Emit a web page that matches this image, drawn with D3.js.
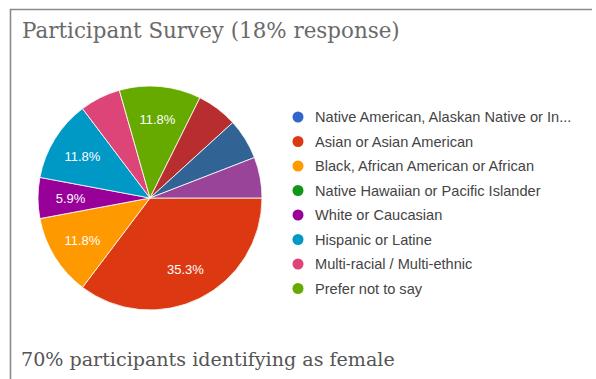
<!DOCTYPE html>
<html>
<head>
<meta charset="utf-8">
<script src="https://cdn.jsdelivr.net/npm/d3@7"></script>
<style>
  html, body { margin: 0; padding: 0; background: #fff; }
  svg { display: block; }
</style>
</head>
<body>
<svg id="chart" width="596" height="379"></svg>
<script>
// ---- data ----
const title = "Participant Survey (18% response)";
const footnote = "70% participants identifying as female";
const categories = [
  "Native American, Alaskan Native or Indigenous",
  "Asian or Asian American",
  "Black, African American or African",
  "Native Hawaiian or Pacific Islander",
  "White or Caucasian",
  "Hispanic or Latine",
  "Multi-racial / Multi-ethnic",
  "Prefer not to say",
  "Other (9)",
  "Other (10)",
  "Other (11)"
];
const counts = [0, 6, 2, 0, 1, 2, 1, 2, 1, 1, 1];
const colors = ["#3366cc", "#dc3912", "#ff9900", "#109618", "#990099",
                "#0099c6", "#dd4477", "#66aa00", "#b82e2e", "#316395", "#994499"];
const legendCount = 8; // legend shows the first 8 entries

// ---- layout ----
const svg = d3.select("#chart");
const W = 596, H = 379;

// card border (left & top)
svg.append("path")
  .attr("d", `M10.5,${H} L10.5,9.5 L592,9.5`)
  .attr("fill", "none").attr("stroke", "#8a8a8a").attr("stroke-width", 1.6);

function fitText(sel, targetWidth) {
  const node = sel.node();
  const w = node.getComputedTextLength();
  const fs = parseFloat(sel.attr("font-size"));
  sel.attr("font-size", fs * targetWidth / w);
}

const t = svg.append("text")
  .attr("x", 22).attr("y", 38)
  .attr("font-family", "'DejaVu Serif', 'Liberation Serif', serif")
  .attr("font-size", 20).attr("fill", "#6a6a6a")
  .text(title);
fitText(t, 378);

const f = svg.append("text")
  .attr("x", 21).attr("y", 366)
  .attr("font-family", "'DejaVu Serif', 'Liberation Serif', serif")
  .attr("font-size", 18).attr("fill", "#555")
  .text(footnote);
fitText(f, 374);

// ---- pie ----
const cx = 150, cy = 198, R = 112;
const data = categories.map((c, i) => ({ cat: c, value: counts[i], color: colors[i] }));
const total = d3.sum(counts);

const pie = d3.pie().value(d => d.value).sort(null)
  .startAngle(Math.PI / 2).endAngle(Math.PI / 2 + 2 * Math.PI);
const arcs = pie(data).filter(a => a.data.value > 0);
const arc = d3.arc().innerRadius(0).outerRadius(R);
const labelArc = d3.arc().innerRadius(R * 0.71).outerRadius(R * 0.71);

const g = svg.append("g").attr("transform", `translate(${cx},${cy})`);
g.selectAll("path.slice").data(arcs).join("path")
  .attr("class", "slice")
  .attr("d", arc)
  .attr("fill", d => d.data.color)
  .attr("stroke", "#fff").attr("stroke-width", 1)
  .attr("stroke-opacity", 0.8);

const fmt = v => (v * 100).toFixed(1) + "%";
// label shown when it fits: large slice, or a thin slice lying horizontally
function fits(a) {
  const frac = a.data.value / total;
  const mid = (a.startAngle + a.endAngle) / 2;
  const horiz = Math.abs(Math.cos(mid)) < 0.1 && Math.sin(mid) < 0;
  return frac >= 0.1 || horiz;
}
g.selectAll("text.lbl").data(arcs.filter(fits)).join("text")
  .attr("class", "lbl")
  .attr("transform", d => `translate(${labelArc.centroid(d)})`)
  .attr("text-anchor", "middle").attr("dy", "0.36em")
  .attr("font-family", "Arial, 'Liberation Sans', sans-serif")
  .attr("font-size", 13).attr("fill", "#fff")
  .text(d => fmt(d.data.value / total));

// ---- legend ----
const legX = 298, legY = 117, legStep = 24.5;
const maxW = 262;
const lg = svg.append("g");
const items = data.slice(0, legendCount);
items.forEach((d, i) => {
  const y = legY + i * legStep;
  lg.append("circle").attr("cx", legX).attr("cy", y).attr("r", 5.5).attr("fill", d.color);
  const tx = lg.append("text").attr("x", legX + 17).attr("y", y).attr("dy", "0.35em")
    .attr("font-family", "Arial, 'Liberation Sans', sans-serif")
    .attr("font-size", 14.6).attr("fill", "#444")
    .text(d.cat);
  // truncate with ellipsis if too long
  let s = d.cat;
  if (tx.node().getComputedTextLength() > maxW) {
    while (s.length > 1) {
      s = s.slice(0, -1);
      tx.text(s.trimEnd() + "...");
      if (tx.node().getComputedTextLength() <= maxW) break;
    }
  }
});
</script>
</body>
</html>
